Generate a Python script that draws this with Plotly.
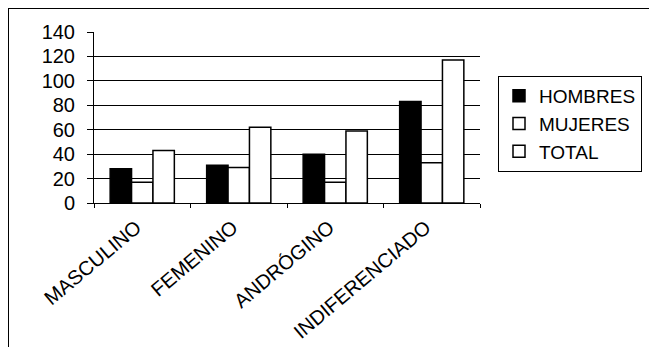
import plotly.graph_objects as go

categories = ["MASCULINO", "FEMENINO", "ANDRÓGINO", "INDIFERENCIADO"]
hombres = [28, 31, 40, 83]
mujeres = [17, 29, 17, 33]
total = [43, 62, 59, 117]
y_ticks = [0, 20, 40, 60, 80, 100, 120, 140]
grid_vals = [20, 40, 60, 80, 100, 120]

FONT = "Liberation Sans, Arial, sans-serif"

fig = go.Figure()
fig.add_trace(go.Bar(name="HOMBRES", x=categories, y=hombres,
                     marker=dict(color="black", line=dict(color="black", width=1.5))))
fig.add_trace(go.Bar(name="MUJERES", x=categories, y=mujeres,
                     marker=dict(color="white", line=dict(color="black", width=1.5))))
fig.add_trace(go.Bar(name="TOTAL", x=categories, y=total,
                     marker=dict(color="white", line=dict(color="black", width=1.5))))

OFF = 8  # page body margin
W, H = 649, 339
ml, mr, mt, mb = 86, 177, 24, 144
pw, ph = W - ml - mr, H - mt - mb


def px_x(s):
    return (s - OFF - ml) / pw


def px_y(s):
    return (H - mb - (s - OFF)) / ph


fig.update_layout(
    width=W, height=H,
    margin=dict(l=ml, r=mr, t=mt, b=mb, pad=0, autoexpand=False),
    paper_bgcolor="white", plot_bgcolor="white",
    barmode="group", bargap=0.335, bargroupgap=0,
    font=dict(family=FONT, size=20, color="black"),
    showlegend=True,
    legend=dict(x=px_x(498), y=px_y(76), xanchor="left", yanchor="top",
                bordercolor="black", borderwidth=1, bgcolor="white",
                font=dict(family=FONT, size=19, color="black"),
                traceorder="normal", tracegroupgap=0),
    xaxis=dict(showline=True, linecolor="black", linewidth=1,
               ticks="outside", tickson="boundaries", ticklen=4, tickcolor="black",
               tickangle=-40, showgrid=False, ticklabelstandoff=4, ticklabelshift=-6,
               automargin=False,
               tickfont=dict(family=FONT, size=20, color="black")),
    yaxis=dict(range=[0, 140], tickvals=y_ticks, showline=True, linecolor="black",
               linewidth=1, ticks="outside", ticklen=6, tickcolor="black",
               showgrid=False, zeroline=False, ticklabelstandoff=8, automargin=False,
               tickfont=dict(family=FONT, size=20, color="black"),
               minor=dict(tickvals=grid_vals, showgrid=True, gridcolor="black",
                          gridwidth=1, ticks="")),
    shapes=[
        dict(type="line", xref="paper", yref="paper",
             x0=px_x(8), x1=px_x(W + 20), y0=px_y(8), y1=px_y(8),
             line=dict(color="black", width=2)),
        dict(type="line", xref="paper", yref="paper",
             x0=px_x(8), x1=px_x(8), y0=px_y(8), y1=px_y(H + 20),
             line=dict(color="black", width=2)),
    ],
)

fig.write_html("out.html")
